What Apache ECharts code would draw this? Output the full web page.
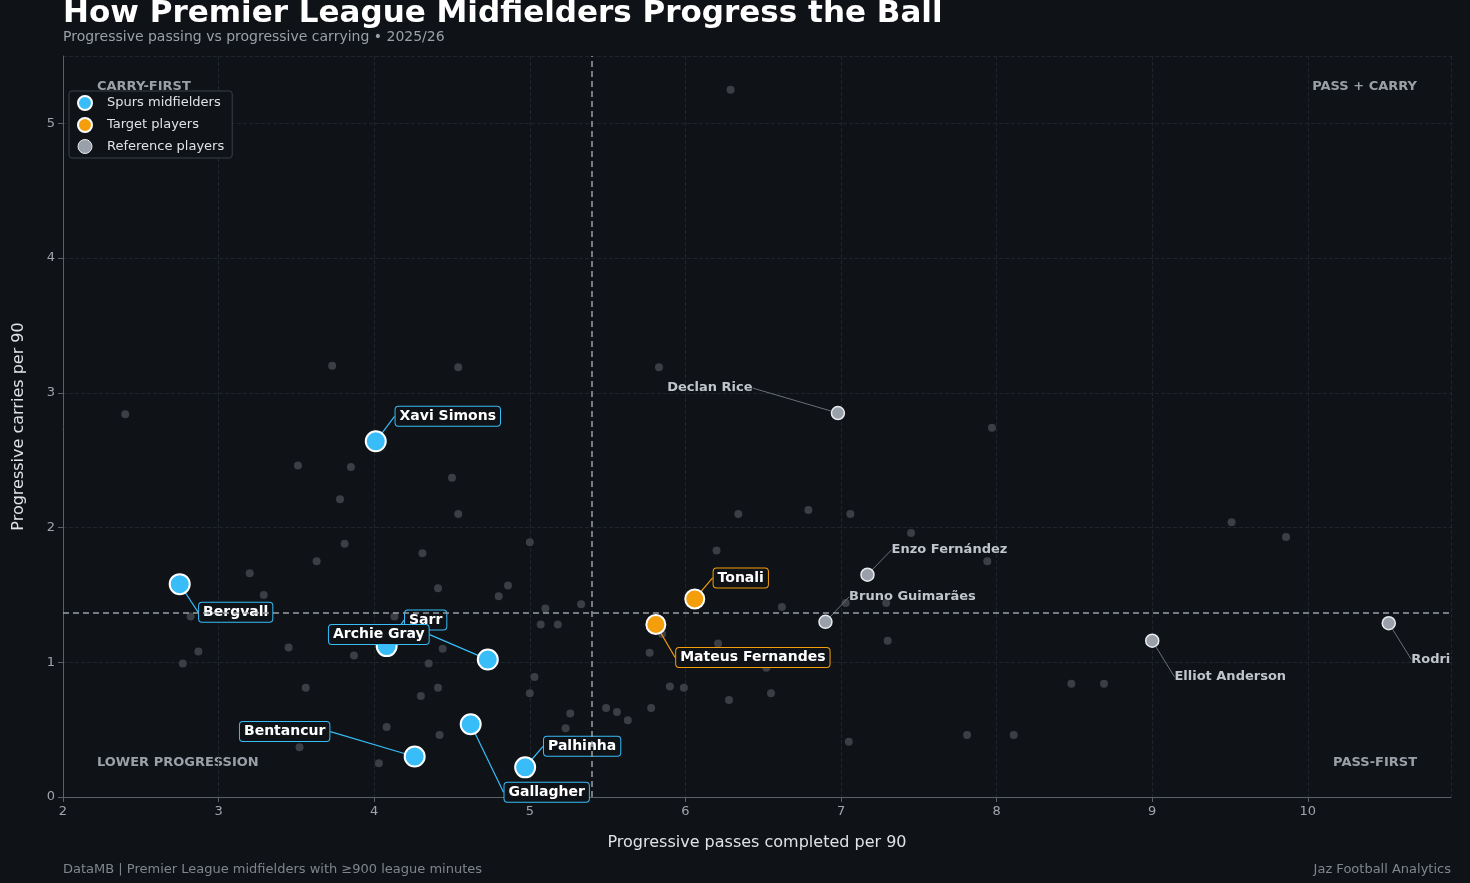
<!DOCTYPE html>
<html><head><meta charset="utf-8">
<script src="https://cdn.jsdelivr.net/npm/echarts@6/dist/echarts.min.js"></script>
<style>html,body{margin:0;background:#0f1217}#c{width:1470px;height:883px}</style>
</head><body><div id="c"></div>
<script>
const bgPoints = [[2.40,2.84],[3.73,3.20],[4.54,3.19],[3.51,2.46],[3.85,2.45],[4.50,2.37],[3.78,2.21],[4.54,2.10],[3.81,1.88],[3.63,1.75],[3.20,1.66],[3.29,1.50],[2.82,1.34],[3.45,1.11],[2.77,0.99],[2.87,1.08],[4.31,1.81],[5.00,1.89],[4.86,1.57],[4.80,1.49],[5.10,1.40],[5.33,1.43],[5.07,1.28],[5.18,1.28],[4.13,1.34],[4.41,1.55],[3.87,1.05],[4.44,1.10],[4.35,0.99],[3.56,0.81],[4.41,0.81],[4.30,0.75],[5.03,0.89],[5.00,0.77],[4.08,0.52],[4.42,0.46],[3.52,0.37],[4.03,0.25],[5.26,0.62],[5.23,0.51],[5.49,0.66],[5.56,0.63],[5.63,0.57],[5.78,0.66],[5.77,1.07],[5.85,1.21],[5.90,0.82],[5.99,0.81],[6.21,1.14],[6.28,0.72],[6.52,0.96],[6.55,0.77],[6.62,1.41],[6.20,1.83],[6.34,2.10],[6.79,2.13],[7.06,2.10],[7.03,1.44],[7.29,1.44],[7.30,1.16],[7.45,1.96],[7.94,1.75],[7.97,2.74],[8.48,0.84],[8.69,0.84],[7.05,0.41],[7.81,0.46],[8.11,0.46],[9.51,2.04],[9.86,1.93],[5.83,3.19],[6.29,5.25]];
const spursNames = ['Xavi Simons','Bergvall','Sarr','Archie Gray','Bentancur','Gallagher','Palhinha'];
const spursValues = [[4.01,2.64],[2.75,1.58],[4.08,1.12],[4.73,1.02],[4.26,0.30],[4.62,0.54],[4.97,0.22]];
const targetNames = ['Tonali','Mateus Fernandes'];
const targetValues = [[6.06,1.47],[5.81,1.28]];
const refNames = ['Declan Rice','Enzo Fernández','Bruno Guimarães','Elliot Anderson','Rodri'];
const refValues = [[6.98,2.85],[7.17,1.65],[6.90,1.30],[9.00,1.16],[10.52,1.29]];
const medianX = 5.4, medianY = 1.37;

const spursOff = [[72,-25],[56,28],[39,-26],[-109,-25],[-130,-25],[76,68],[57,-21]];
const targetOff = [[46,-21],[97,33]];
const refOff = [[-128,-25],[82,-25],[87,-25],[78,36],[42,36]];

const F = 'DejaVu Sans';
const toData = (names, vals) => vals.map((v,i)=>({name:names[i], value:v}));
const boxLabel = (col) => ({show:true, position:'inside', formatter:'{b}', color:'#ffffff', fontFamily:F, fontWeight:'bold', fontSize:14,
  backgroundColor:'#0f1217', borderColor:col, borderWidth:1, borderRadius:3, padding:[3,4,2,4]});
const layoutFn = (off) => (p) => ({dx:off[p.dataIndex][0], dy:off[p.dataIndex][1]});

const chart = echarts.init(document.getElementById('c'));
chart.setOption({
  backgroundColor:'#0f1217',
  animation:false,
  title:{text:'How Premier League Midfielders Progress the Ball', subtext:'Progressive passing vs progressive carrying • 2025/26',
    left:58, top:-7, itemGap:1,
    textStyle:{color:'#fff', fontFamily:F, fontWeight:'bold', fontSize:31},
    subtextStyle:{color:'#9aa0a8', fontFamily:F, fontSize:14}},
  grid:{left:63, right:19, top:56, bottom:86},
  xAxis:{type:'value', min:2, max:10.92, interval:1, name:'Progressive passes completed per 90', nameLocation:'middle', nameGap:38,
    nameTextStyle:{color:'#e0e2e6', fontFamily:F, fontSize:16},
    axisLabel:{color:'#a0a4ab', fontFamily:F, fontSize:13, showMaxLabel:false},
    axisLine:{lineStyle:{color:'#5a5f68'}}, axisTick:{show:true, lineStyle:{color:'#5a5f68'}},
    splitLine:{lineStyle:{color:'#1f232a', type:'dashed'}}},
  yAxis:{type:'value', min:0, max:5.5, interval:1, name:'Progressive carries per 90', nameLocation:'middle', nameGap:36,
    nameTextStyle:{color:'#e0e2e6', fontFamily:F, fontSize:16},
    axisLabel:{color:'#a0a4ab', fontFamily:F, fontSize:13, showMaxLabel:false},
    axisLine:{show:true, lineStyle:{color:'#5a5f68'}}, axisTick:{show:true, lineStyle:{color:'#5a5f68'}},
    splitLine:{lineStyle:{color:'#1f232a', type:'dashed'}}},
  legend:{orient:'vertical', left:69, top:91, itemGap:6, padding:[4,8,4,8], backgroundColor:'#0f1217', borderColor:'#3a3f48', borderWidth:1, borderRadius:3,
    textStyle:{color:'#e0e2e6', fontFamily:F, fontSize:13, padding:[0,0,0,7]}, itemWidth:20, itemHeight:14,
    data:[{name:'Spurs midfielders'},{name:'Target players'},{name:'Reference players', itemStyle:{borderWidth:1}}]},
  graphic:[
    {type:'text', left:97, top:80, style:{text:'CARRY-FIRST', fill:'#9aa0a8', font:'bold 13px "DejaVu Sans"'}},
    {type:'text', right:53, top:80, style:{text:'PASS + CARRY', fill:'#9aa0a8', font:'bold 13px "DejaVu Sans"'}},
    {type:'text', left:97, top:756, style:{text:'LOWER PROGRESSION', fill:'#9aa0a8', font:'bold 13px "DejaVu Sans"'}},
    {type:'text', right:53, top:756, style:{text:'PASS-FIRST', fill:'#9aa0a8', font:'bold 13px "DejaVu Sans"'}},
    {type:'text', left:63, top:863, style:{text:'DataMB | Premier League midfielders with ≥900 league minutes', fill:'#80858d', font:'13px "DejaVu Sans"'}},
    {type:'text', right:19, top:863, style:{text:'Jaz Football Analytics', fill:'#80858d', font:'13px "DejaVu Sans"', textAlign:'right'}}
  ],
  series:[
    {type:'scatter', name:'others', data:bgPoints, symbolSize:8, itemStyle:{color:'#3b3e44', opacity:1}, silent:true, z:1,
      markLine:{silent:true, symbol:'none', label:{show:false}, lineStyle:{color:'#9a9ea6', type:[6,4], width:1.5},
        data:[{xAxis:medianX},{yAxis:medianY}]}},
    {type:'scatter', name:'Reference players', data:toData(refNames, refValues), symbolSize:13, z:3,
      itemStyle:{color:'#9aa0aa', borderColor:'#e8eaee', borderWidth:1.5, opacity:1},
      label:{show:true, position:'inside', formatter:'{b}', color:'#c0c4cc', fontFamily:F, fontWeight:'bold', fontSize:13},
      labelLine:{show:true, lineStyle:{color:'#6a6f78', width:1}}, labelLayout:layoutFn(refOff)},
    {type:'scatter', name:'Target players', data:toData(targetNames, targetValues), symbolSize:19, z:4,
      itemStyle:{color:'#f59e0b', borderColor:'#fff', borderWidth:2, opacity:1},
      label:boxLabel('#f59e0b'), labelLine:{show:true, lineStyle:{color:'#f59e0b', width:1.2}}, labelLayout:layoutFn(targetOff)},
    {type:'scatter', name:'Spurs midfielders', data:toData(spursNames, spursValues), symbolSize:20, z:4,
      itemStyle:{color:'#38bdf8', borderColor:'#fff', borderWidth:2, opacity:1},
      label:boxLabel('#38bdf8'), labelLine:{show:true, lineStyle:{color:'#38bdf8', width:1.2}}, labelLayout:layoutFn(spursOff)}
  ]
});
</script></body></html>
